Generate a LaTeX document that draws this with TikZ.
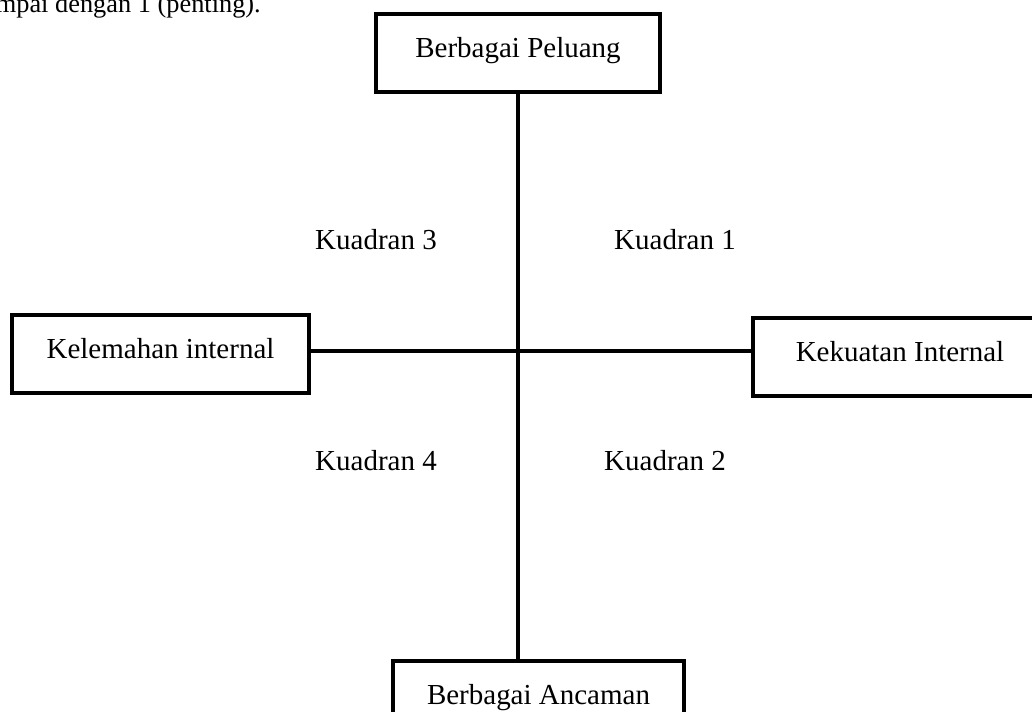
\documentclass[tikz,border=0pt]{standalone}
\usepackage{fontspec}
\setmainfont{Liberation Serif}
\begin{document}
\begin{tikzpicture}[x=0.02cm, y=-0.02cm,
        font=\fontsize{16.5}{20}\selectfont,
        box/.style={draw, line width=2.6pt, inner xsep=0pt, inner ysep=0pt,
            text height=0.86cm, text depth=0.70cm}]
        \useasboundingbox (0,0) rectangle (1032,711);
        \clip (0,0) rectangle (1032,711);

        % leftover text from the page above
        \node[anchor=base east, font=\fontsize{15}{18}\selectfont] (capt) at (267, 12) {mpai dengan 1 (penting).};

        \node[box, minimum width=5.68cm] (peluang) at (518, 53) {Berbagai Peluang};
        \node[box, minimum width=5.94cm] (lemah) at (160.5, 354) {Kelemahan internal};
        \node[box, minimum width=5.88cm] (kuat) at (900, 357) {Kekuatan Internal};
        \node[box, minimum width=5.82cm] (ancam) at (538.5, 700) {Berbagai Ancaman};

        \coordinate (mid) at (518, 351);

        \draw[line width=2.6pt]
            (peluang.south) -- (mid |- ancam.north)
            (lemah.east |- mid) -- (kuat.west |- mid)
            ;

        \node (k3) at (376, 240) {Kuadran 3};
        \node (k1) at (675, 240) {Kuadran 1};
        \node (k4) at (376, 461) {Kuadran 4};
        \node (k2) at (665, 461) {Kuadran 2};
    \end{tikzpicture}
\end{document}
